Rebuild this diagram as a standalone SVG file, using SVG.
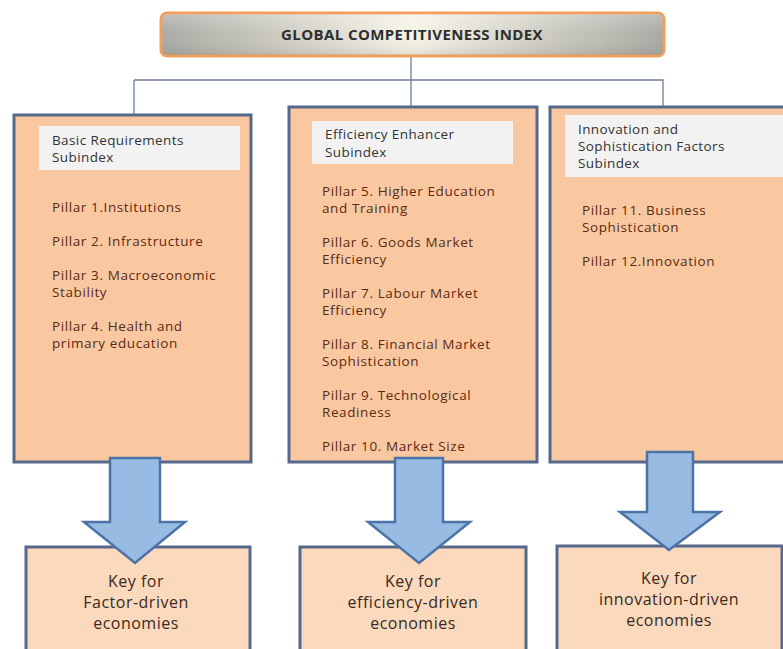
<svg xmlns="http://www.w3.org/2000/svg" width="783" height="649" viewBox="0 0 783 649">
<defs>
<linearGradient id="gTop" x1="0" y1="0" x2="1" y2="0">
<stop offset="0" stop-color="#a9a9a3"/>
<stop offset="0.5" stop-color="#f6f3e6"/>
<stop offset="1" stop-color="#a9a9a3"/>
</linearGradient>
<linearGradient id="gTopV" x1="0" y1="0" x2="0" y2="1">
<stop offset="0" stop-color="#ffffff" stop-opacity="0.25"/>
<stop offset="0.5" stop-color="#ffffff" stop-opacity="0"/>
<stop offset="1" stop-color="#000000" stop-opacity="0.08"/>
</linearGradient>
</defs>
<style>
.pillar{fill:#fac8a0;stroke:#56698a;stroke-width:3}
.hdr{fill:#f2f2f2}
.key{fill:#fbd9bc;stroke:#56698a;stroke-width:3}
.arrow{fill:#97bbe3;stroke:#4c72a6;stroke-width:2.5;stroke-linejoin:miter}
.conn{fill:none;stroke:#6d7f9c;stroke-width:1.3}
.ht{font-family:"Open Sans",sans-serif;font-size:13.5px;fill:#333333;letter-spacing:0.4px}
.pt{font-family:"Open Sans",sans-serif;font-size:13.5px;fill:#5a2a12;letter-spacing:0.6px}
.kt{font-family:"Open Sans",sans-serif;font-size:16px;fill:#3a2a20;text-anchor:middle;letter-spacing:0.5px}
.tt{font-family:"Open Sans",sans-serif;font-size:15px;font-weight:bold;fill:#2e2e2e;text-anchor:middle;letter-spacing:0.4px}
</style>
<rect width="783" height="649" fill="#ffffff"/>
<g id="connectors">
<path class="conn" d="M411 56 V107"/>
<path class="conn" d="M134 80 H663 V107"/>
<path class="conn" d="M134 80 V115"/>
</g>
<g id="gci">
<rect x="161" y="13" width="503" height="43" rx="6" fill="url(#gTop)" stroke="#ef9f5e" stroke-width="3"/>
<rect x="162" y="14" width="501" height="41" rx="5" fill="url(#gTopV)"/>
<text class="tt" x="412" y="40">GLOBAL COMPETITIVENESS INDEX</text>
</g>
<g id="basic">
<rect class="pillar" x="14" y="115" width="237" height="347"/>
<rect class="hdr" x="39" y="126" width="201" height="44"/>
<text class="ht" x="52" y="145">Basic Requirements</text>
<text class="ht" x="52" y="162">Subindex</text>
<text class="pt" x="52" y="212">Pillar 1.Institutions</text>
<text class="pt" x="52" y="246">Pillar 2. Infrastructure</text>
<text class="pt" x="52" y="280">Pillar 3. Macroeconomic</text>
<text class="pt" x="52" y="297">Stability</text>
<text class="pt" x="52" y="331">Pillar 4. Health and</text>
<text class="pt" x="52" y="348">primary education</text>
</g>
<g id="efficiency">
<rect class="pillar" x="289" y="107" width="248" height="355"/>
<rect class="hdr" x="312" y="121" width="201" height="43"/>
<text class="ht" x="325" y="139">Efficiency Enhancer</text>
<text class="ht" x="325" y="157">Subindex</text>
<text class="pt" x="322" y="196">Pillar 5. Higher Education</text>
<text class="pt" x="322" y="213">and Training</text>
<text class="pt" x="322" y="247">Pillar 6. Goods Market</text>
<text class="pt" x="322" y="264">Efficiency</text>
<text class="pt" x="322" y="298">Pillar 7. Labour Market</text>
<text class="pt" x="322" y="315">Efficiency</text>
<text class="pt" x="322" y="349">Pillar 8. Financial Market</text>
<text class="pt" x="322" y="366">Sophistication</text>
<text class="pt" x="322" y="400">Pillar 9. Technological</text>
<text class="pt" x="322" y="417">Readiness</text>
<text class="pt" x="322" y="451">Pillar 10. Market Size</text>
</g>
<g id="innovation">
<rect class="pillar" x="550" y="107" width="240" height="355"/>
<rect class="hdr" x="565" y="115" width="218" height="62"/>
<text class="ht" x="578" y="134">Innovation and</text>
<text class="ht" x="578" y="151">Sophistication Factors</text>
<text class="ht" x="578" y="168">Subindex</text>
<text class="pt" x="582" y="215">Pillar 11. Business</text>
<text class="pt" x="582" y="232">Sophistication</text>
<text class="pt" x="582" y="266">Pillar 12.Innovation</text>
</g>
<g id="key-factor">
<rect class="key" x="26" y="547" width="224" height="110"/>
<text class="kt" x="136" y="587">Key for</text>
<text class="kt" x="136" y="608">Factor-driven</text>
<text class="kt" x="136" y="629">economies</text>
</g>
<g id="key-efficiency">
<rect class="key" x="300" y="547" width="226" height="110"/>
<text class="kt" x="413" y="587">Key for</text>
<text class="kt" x="413" y="608">efficiency-driven</text>
<text class="kt" x="413" y="629">economies</text>
</g>
<g id="key-innovation">
<rect class="key" x="557" y="546" width="225" height="110"/>
<text class="kt" x="669" y="584">Key for</text>
<text class="kt" x="669" y="605">innovation-driven</text>
<text class="kt" x="669" y="626">economies</text>
</g>
<g id="arrows">
<path class="arrow" d="M110 458 H160 V522 H185 L135 563 L84 522 H110 Z"/>
<path class="arrow" d="M395 458 H443 V522 H470 L419 563 L368 522 H395 Z"/>
<path class="arrow" d="M647 452 H693 V512 H720 L669 550 L620 512 H647 Z"/>
</g>
</svg>
